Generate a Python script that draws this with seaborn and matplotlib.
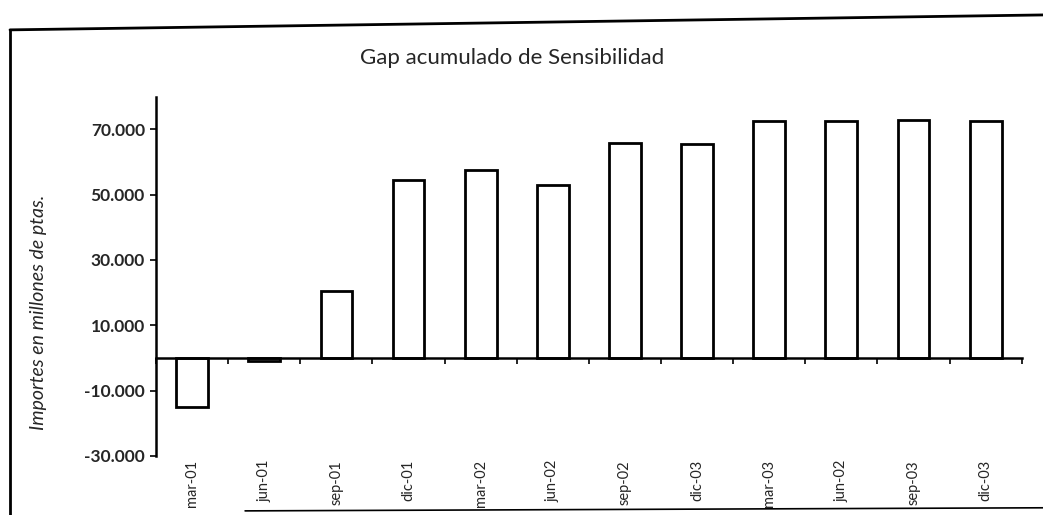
import matplotlib.pyplot as plt
import matplotlib.ticker as mticker
from matplotlib.lines import Line2D
import numpy as np
import pandas as pd
import seaborn as sns

# datos
periodos = ['mar-01', 'jun-01', 'sep-01', 'dic-01', 'mar-02', 'jun-02',
            'sep-02', 'dic-03', 'mar-03', 'jun-02', 'sep-03', 'dic-03']
gap_acumulado = [-15000, -1000, 20500, 54500, 57500, 53000,
                 66000, 65500, 72500, 72500, 73000, 72500]
y_ticks = [-30000, -10000, 10000, 30000, 50000, 70000]

sns.set_style('white')
plt.rcParams['font.family'] = ['Lato', 'DejaVu Sans']

fig = plt.figure(figsize=(10.43, 5.15), dpi=100)
ax = fig.add_axes([0.1496, 0.115, 0.830, 0.697])

# las etiquetas se repiten (jun-02, dic-03), asi que se usa la posicion como categoria
df = pd.DataFrame({'pos': range(len(periodos)), 'gap': gap_acumulado})
sns.barplot(data=df, x='pos', y='gap', color='white', saturation=1,
            edgecolor='black', linewidth=2.0, width=0.44, ax=ax)

ax.set_xlim(-0.5, len(periodos) - 0.5)
ax.set_ylim(-30000, 80000)
ax.set_yticks(y_ticks)
ax.yaxis.set_major_formatter(
    mticker.FuncFormatter(lambda v, p: f'{v:,.0f}'.replace(',', '.')))
ax.tick_params(axis='y', direction='out', length=4, width=1.4, labelsize=12.5,
               left=True, pad=4)
for lab in ax.get_yticklabels():
    lab.set_fontweight('bold')

# eje de categorias en el cero, con marcas entre categorias
ax.spines['bottom'].set_position(('data', 0))
ax.spines['top'].set_visible(False)
ax.spines['right'].set_visible(False)
for s in ['left', 'bottom']:
    ax.spines[s].set_linewidth(1.8)
    ax.spines[s].set_color('black')
ax.set_xticks(np.arange(len(periodos) + 1) - 0.5)
ax.set_xticklabels([])
ax.tick_params(axis='x', direction='out', length=4, width=1.4, bottom=True)
ax.set_xlabel('')
ax.set_ylabel('')

# etiquetas de periodos abajo del grafico
sec = ax.secondary_xaxis(0.0)
sec.set_xticks(range(len(periodos)), labels=periodos, rotation=90, fontsize=10.5)
sec.tick_params(length=0, pad=3)
sec.spines['bottom'].set_visible(False)

fig.text(0.491, 0.887, 'Gap acumulado de Sensibilidad', ha='center', va='center',
         fontsize=16)
fig.text(0.037, 0.394, 'Importes en millones de ptas.', ha='center', va='center',
         rotation=90, fontsize=14, style='italic')

# marco del escaneo
fig.add_artist(Line2D([0.0096, 0.0096], [0.0, 0.942], transform=fig.transFigure,
                      color='black', lw=2))
fig.add_artist(Line2D([0.0096, 1.0], [0.942, 0.971], transform=fig.transFigure,
                      color='black', lw=2))
fig.add_artist(Line2D([0.235, 1.0], [0.008, 0.014], transform=fig.transFigure,
                      color='black', lw=1.2))

fig.savefig('out.png', dpi=100)
